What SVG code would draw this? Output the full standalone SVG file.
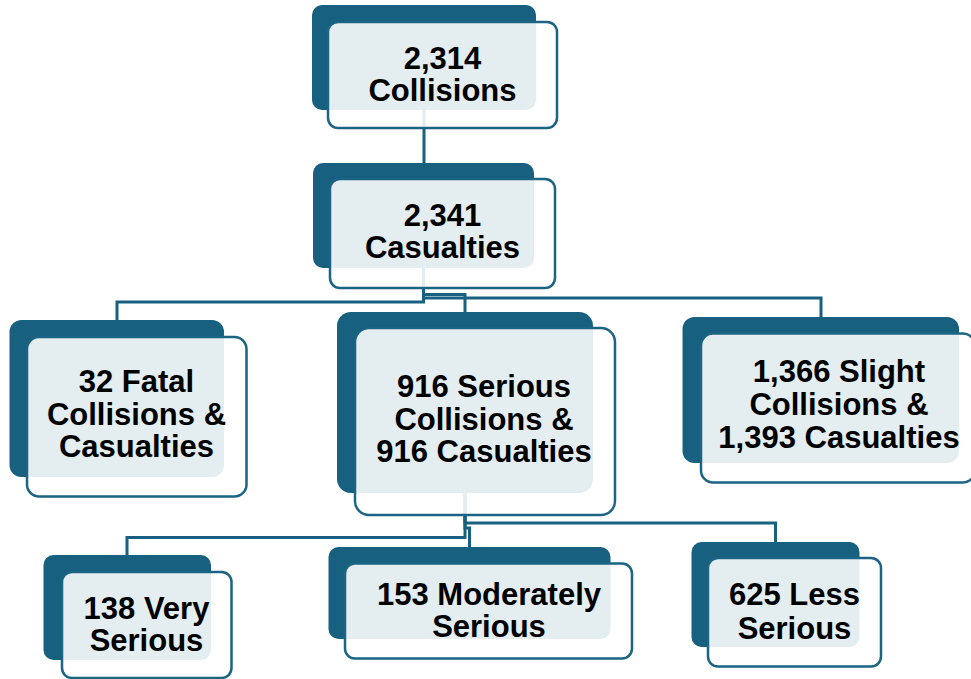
<svg xmlns="http://www.w3.org/2000/svg" width="971" height="679" viewBox="0 0 971 679">
<style>
.back{fill:#17607F}
.front{fill:#FFFFFF;fill-opacity:0.885;stroke:#1B6483;stroke-width:2.5}
.lbl{font-family:"Liberation Sans",Arial,Helvetica,sans-serif;font-weight:700;font-size:31px;fill:#000;text-anchor:middle}
.conn{fill:none;stroke:#17607F;stroke-width:3}
</style>
<rect width="971" height="679" fill="#FFFFFF"/>
<g id="connectors">
<path class="conn" d="M424,110 V163"/>
<path class="conn" d="M423.5,268 V302 H117 V320"/>
<path class="conn" d="M423.5,268 V298 H821 V317"/>
<path class="conn" d="M423.5,268 V294.5 H465 V312"/>
<path class="conn" d="M465,493 V537.5 H127 V555"/>
<path class="conn" d="M465,493 V523 H775.5 V542"/>
<path class="conn" d="M465,493 V528 H469.5 V547"/>
</g>
<g id="n1">
<rect class="back" x="312" y="5" width="224" height="105" rx="10"/>
<rect class="front" x="328" y="22" width="229" height="106" rx="10"/>
<text class="lbl" x="442.5" y="68.5">2,314</text>
<text class="lbl" x="442.5" y="100.5">Collisions</text>
</g>
<g id="n2">
<rect class="back" x="313" y="163" width="221" height="105" rx="10"/>
<rect class="front" x="330" y="179" width="225" height="109" rx="10"/>
<text class="lbl" x="442.5" y="225.5">2,341</text>
<text class="lbl" x="442.5" y="257.5">Casualties</text>
</g>
<g id="n3">
<rect class="back" x="9.5" y="320" width="214.5" height="157" rx="12"/>
<rect class="front" x="27" y="337" width="219.5" height="159.5" rx="12"/>
<text class="lbl" x="136.5" y="392">32 Fatal</text>
<text class="lbl" x="136.5" y="424.5">Collisions &amp;</text>
<text class="lbl" x="136.5" y="457">Casualties</text>
</g>
<g id="n4">
<rect class="back" x="337" y="312" width="256" height="181" rx="14"/>
<rect class="front" x="355" y="328" width="260" height="187" rx="14"/>
<text class="lbl" x="484" y="397">916 Serious</text>
<text class="lbl" x="484" y="430">Collisions &amp;</text>
<text class="lbl" x="484" y="462">916 Casualties</text>
</g>
<g id="n5">
<rect class="back" x="682.5" y="317" width="276.5" height="146" rx="12"/>
<rect class="front" x="701" y="333.5" width="274" height="149" rx="12"/>
<text class="lbl" x="839" y="382">1,366 Slight</text>
<text class="lbl" x="839" y="415">Collisions &amp;</text>
<text class="lbl" x="839" y="447.5">1,393 Casualties</text>
</g>
<g id="n6">
<rect class="back" x="43.5" y="555" width="167.5" height="105" rx="10"/>
<rect class="front" x="62" y="572" width="169.5" height="106" rx="10"/>
<text class="lbl" x="146.5" y="618.5">138 Very</text>
<text class="lbl" x="146.5" y="650.5">Serious</text>
</g>
<g id="n7">
<rect class="back" x="328.5" y="547" width="282" height="92" rx="10"/>
<rect class="front" x="345" y="563.5" width="287" height="95" rx="10"/>
<text class="lbl" x="489" y="604.5">153 Moderately</text>
<text class="lbl" x="489" y="637">Serious</text>
</g>
<g id="n8">
<rect class="back" x="691.5" y="542" width="168" height="105" rx="10"/>
<rect class="front" x="708" y="558" width="173" height="108.5" rx="10"/>
<text class="lbl" x="794.5" y="604.5">625 Less</text>
<text class="lbl" x="794.5" y="638.5">Serious</text>
</g>
</svg>
